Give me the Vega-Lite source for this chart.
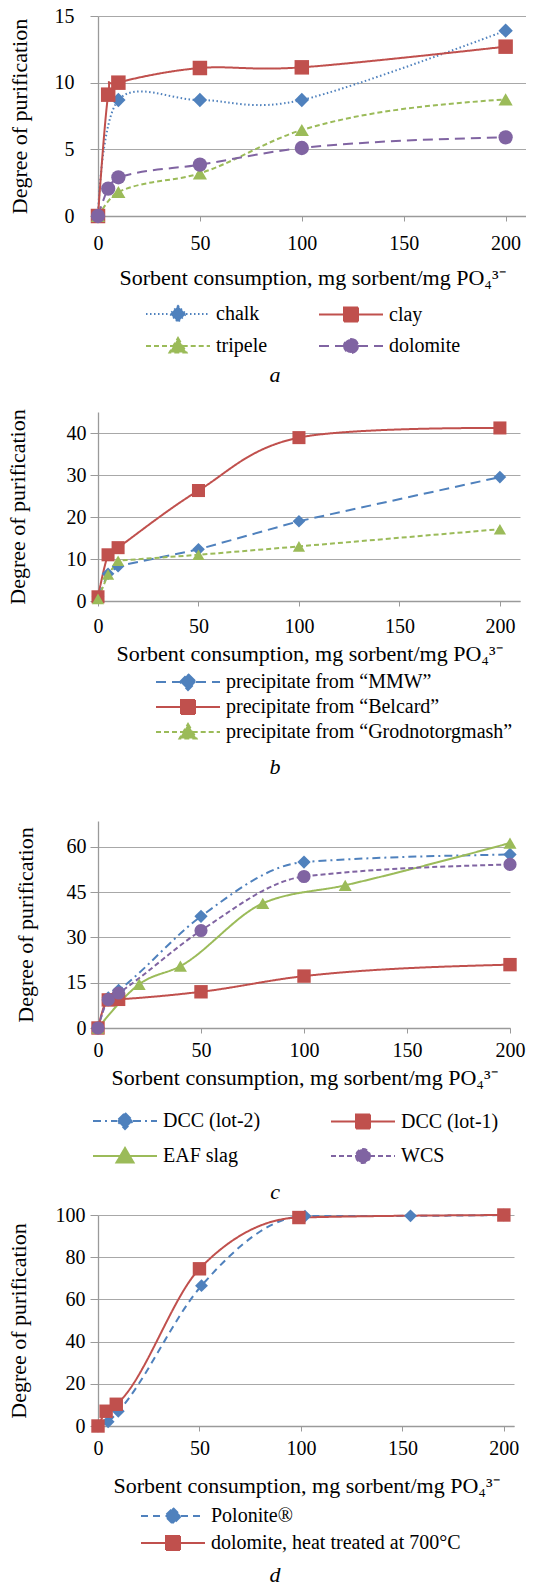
{
  "$schema": "https://vega.github.io/schema/vega-lite/v6.json",
  "padding": {"left": 6, "top": 6, "right": 0, "bottom": 0},
  "background": "white",
  "config": {
    "font": "Liberation Serif",
    "view": {"stroke": null},
    "axis": {
      "labelFont": "Liberation Serif", "titleFont": "Liberation Serif",
      "labelFontSize": 20, "titleFontSize": 22, "titleFontWeight": "normal",
      "labelColor": "#000", "titleColor": "#000",
      "domainColor": "#9a9a9a", "tickColor": "#9a9a9a", "gridColor": "#a8a8a8",
      "gridWidth": 1, "domainWidth": 1.3, "tickWidth": 1, "labelFlush": false, "labelOverlap": false
    },
    "axisX": {"grid": false, "tickSize": 5},
    "axisY": {"grid": true, "tickSize": 8},
    "title": {"font": "Liberation Serif", "fontStyle": "italic", "fontWeight": "normal", "fontSize": 22, "color": "#000", "orient": "bottom", "anchor": "middle"},
    "legend": {"labelFont": "Liberation Serif", "labelFontSize": 20, "labelColor": "#000", "padding": 0, "symbolSize": 400, "symbolOffset": 21, "labelOffset": 27, "symbolStrokeWidth": 2, "labelLimit": 400, "direction": "horizontal"}
  },
  "datasets": {
    "a": [
      {"series": "chalk", "x": 0, "y": 0}, {"series": "chalk", "x": 10, "y": 8.7}, {"series": "chalk", "x": 50, "y": 8.7}, {"series": "chalk", "x": 100, "y": 8.7}, {"series": "chalk", "x": 200, "y": 13.9},
      {"series": "clay", "x": 0, "y": 0}, {"series": "clay", "x": 5, "y": 9.1}, {"series": "clay", "x": 10, "y": 10.0}, {"series": "clay", "x": 50, "y": 11.1}, {"series": "clay", "x": 100, "y": 11.15}, {"series": "clay", "x": 200, "y": 12.7},
      {"series": "tripele", "x": 0, "y": 0}, {"series": "tripele", "x": 10, "y": 1.8}, {"series": "tripele", "x": 50, "y": 3.2}, {"series": "tripele", "x": 100, "y": 6.45}, {"series": "tripele", "x": 200, "y": 8.75},
      {"series": "dolomite", "x": 0, "y": 0}, {"series": "dolomite", "x": 5, "y": 2.05}, {"series": "dolomite", "x": 10, "y": 2.9}, {"series": "dolomite", "x": 50, "y": 3.85}, {"series": "dolomite", "x": 100, "y": 5.1}, {"series": "dolomite", "x": 200, "y": 5.9}
    ],
    "b": [
      {"series": "precipitate from “MMW”", "x": 0, "y": 1}, {"series": "precipitate from “MMW”", "x": 5, "y": 6.5}, {"series": "precipitate from “MMW”", "x": 10, "y": 8.3}, {"series": "precipitate from “MMW”", "x": 50, "y": 12.3}, {"series": "precipitate from “MMW”", "x": 100, "y": 19.0}, {"series": "precipitate from “MMW”", "x": 200, "y": 29.5},
      {"series": "precipitate from “Belcard”", "x": 0, "y": 1}, {"series": "precipitate from “Belcard”", "x": 5, "y": 11.0}, {"series": "precipitate from “Belcard”", "x": 10, "y": 12.7}, {"series": "precipitate from “Belcard”", "x": 50, "y": 26.3}, {"series": "precipitate from “Belcard”", "x": 100, "y": 38.9}, {"series": "precipitate from “Belcard”", "x": 200, "y": 41.2},
      {"series": "precipitate from “Grodnotorgmash”", "x": 0, "y": 0.5}, {"series": "precipitate from “Grodnotorgmash”", "x": 5, "y": 6.3}, {"series": "precipitate from “Grodnotorgmash”", "x": 10, "y": 9.6}, {"series": "precipitate from “Grodnotorgmash”", "x": 50, "y": 11.0}, {"series": "precipitate from “Grodnotorgmash”", "x": 100, "y": 13.0}, {"series": "precipitate from “Grodnotorgmash”", "x": 200, "y": 17.1}
    ],
    "c": [
      {"series": "DCC (lot-2)", "x": 0, "y": 0}, {"series": "DCC (lot-2)", "x": 5, "y": 10}, {"series": "DCC (lot-2)", "x": 10, "y": 12.5}, {"series": "DCC (lot-2)", "x": 50, "y": 37}, {"series": "DCC (lot-2)", "x": 100, "y": 55}, {"series": "DCC (lot-2)", "x": 200, "y": 57.5},
      {"series": "DCC (lot-1)", "x": 0, "y": 0}, {"series": "DCC (lot-1)", "x": 5, "y": 9.3}, {"series": "DCC (lot-1)", "x": 10, "y": 9.5}, {"series": "DCC (lot-1)", "x": 50, "y": 12}, {"series": "DCC (lot-1)", "x": 100, "y": 17.2}, {"series": "DCC (lot-1)", "x": 200, "y": 21},
      {"series": "EAF slag", "x": 0, "y": 0}, {"series": "EAF slag", "x": 20, "y": 14.5}, {"series": "EAF slag", "x": 40, "y": 20.5}, {"series": "EAF slag", "x": 80, "y": 41.3}, {"series": "EAF slag", "x": 120, "y": 47.3}, {"series": "EAF slag", "x": 200, "y": 61.3},
      {"series": "WCS", "x": 0, "y": 0}, {"series": "WCS", "x": 5, "y": 9.4}, {"series": "WCS", "x": 10, "y": 11.6}, {"series": "WCS", "x": 50, "y": 32.3}, {"series": "WCS", "x": 100, "y": 50.2}, {"series": "WCS", "x": 200, "y": 54.2}
    ],
    "d": [
      {"series": "Polonite®", "x": 0, "y": 0}, {"series": "Polonite®", "x": 5, "y": 2}, {"series": "Polonite®", "x": 10, "y": 7}, {"series": "Polonite®", "x": 51, "y": 66.5}, {"series": "Polonite®", "x": 102, "y": 99.5}, {"series": "Polonite®", "x": 154, "y": 99.6}, {"series": "Polonite®", "x": 200, "y": 100},
      {"series": "dolomite, heat treated at 700°C", "x": 0, "y": 0}, {"series": "dolomite, heat treated at 700°C", "x": 4, "y": 7}, {"series": "dolomite, heat treated at 700°C", "x": 9, "y": 10.3}, {"series": "dolomite, heat treated at 700°C", "x": 50, "y": 74.5}, {"series": "dolomite, heat treated at 700°C", "x": 99, "y": 98.8}, {"series": "dolomite, heat treated at 700°C", "x": 200, "y": 100}
    ]
  },
  "resolve": {"scale": {"color": "independent", "strokeDash": "independent", "shape": "independent", "size": "independent"}, "legend": {"color": "independent"}},
  "spacing": 43,
  "columns": 1,
  "align": "none",
  "concat": [
    {
      "resolve": {"scale": {"color": "independent", "strokeDash": "independent", "shape": "independent", "size": "independent"}, "legend": {"color": "independent"}},
      "spacing": 22,
      "columns": 1,
      "align": "none",
      "concat": [
        {
          "width": 428, "height": 200,
          "data": {"name": "a"},
          "title": {"text": "a", "dx": -37, "offset": 8},
          "encoding": {
            "x": {"field": "x", "type": "quantitative", "scale": {"domain": [0, 210], "nice": false}, "axis": {"title": "Sorbent consumption, mg sorbent/mg PO₄³⁻", "values": [0, 50, 100, 150, 200], "labelPadding": 12, "titlePadding": 14}},
            "y": {"field": "y", "type": "quantitative", "scale": {"domain": [0, 15], "nice": false}, "axis": {"title": "Degree of purification", "values": [0, 5, 10, 15], "labelPadding": 16, "titlePadding": 23}},
            "color": {"field": "series", "type": "nominal", "sort": null,
              "scale": {"domain": ["chalk", "clay", "tripele", "dolomite"], "range": ["#4F81BD", "#C0504D", "#9BBB59", "#8064A2"]},
              "legend": {"orient": "none", "legendX": 48, "legendY": 287, "title": null, "columns": 2, "columnPadding": 47, "rowPadding": 8,
                "encoding": {"symbols": {
                  "shape": {"value": {"expr": "datum.value==='chalk'?'M-3.2,0H-0.8M0.8,0H3.2M0,-0.8L0.8,0L0,0.8L-0.8,0Z':datum.value==='clay'?'M-3.2,0H-0.7M0.7,0H3.2M-0.7,-0.7H0.7V0.7H-0.7Z':datum.value==='tripele'?'M-3.2,0H-0.47M0.47,0H3.2M0,-0.8L0.85,0.65H-0.85Z':'M-3.2,0H-0.7M0.7,0H3.2M0.7,0A0.7,0.7,0,1,1,-0.7,0A0.7,0.7,0,1,1,0.7,0Z'"}},
                  "strokeDash": {"value": {"expr": "datum.value==='chalk'?[1.5,2.5]:datum.value==='clay'?[1,0]:datum.value==='tripele'?[5,3]:[10,6]"}},
                  "fill": {"value": {"expr": "datum.value==='chalk'?'#4F81BD':datum.value==='clay'?'#C0504D':datum.value==='tripele'?'#9BBB59':'#8064A2'"}},
                  "stroke": {"value": {"expr": "datum.value==='chalk'?'#4F81BD':datum.value==='clay'?'#C0504D':datum.value==='tripele'?'#9BBB59':'#8064A2'"}},
                  "strokeWidth": {"value": 2}, "size": {"value": 400}, "opacity": {"value": 1}, "fillOpacity": {"value": 1}
                }}}}
          },
          "layer": [
            {"transform": [{"filter": "datum.series==='chalk'||datum.series==='clay'"}],
             "mark": {"type": "line", "interpolate": "cardinal", "strokeWidth": 2},
             "encoding": {"strokeDash": {"field": "series", "type": "nominal", "legend": null, "scale": {"domain": ["dolomite", "tripele", "clay", "chalk"], "range": [[10, 6], [5, 3], [1, 0], [1.5, 2.5]]}}}},
            {"transform": [{"filter": "datum.series==='tripele'||datum.series==='dolomite'"}],
             "mark": {"type": "line", "interpolate": "monotone", "strokeWidth": 2},
             "encoding": {"strokeDash": {"field": "series", "type": "nominal", "legend": null, "scale": {"domain": ["dolomite", "tripele", "clay", "chalk"], "range": [[10, 6], [5, 3], [1, 0], [1.5, 2.5]]}}}},
            {"mark": {"type": "point", "filled": true, "opacity": 1},
             "encoding": {
               "shape": {"field": "series", "type": "nominal", "legend": null, "scale": {"domain": ["dolomite", "tripele", "clay", "chalk"], "range": ["circle", "triangle-up", "square", "diamond"]}},
               "size": {"field": "series", "type": "nominal", "legend": null, "scale": {"domain": ["tripele", "dolomite", "chalk", "clay"], "range": [200, 210, 180, 230]}}}}
          ]
        },
        {
          "width": 422, "height": 189,
          "data": {"name": "b"},
          "title": {"text": "b", "dx": -34, "offset": 14},
          "encoding": {
            "x": {"field": "x", "type": "quantitative", "scale": {"domain": [0, 210], "nice": false}, "axis": {"title": "Sorbent consumption, mg sorbent/mg PO₄³⁻", "values": [0, 50, 100, 150, 200], "labelPadding": 10, "titlePadding": 7}},
            "y": {"field": "y", "type": "quantitative", "scale": {"domain": [0, 45], "nice": false}, "axis": {"title": "Degree of purification", "values": [0, 10, 20, 30, 40], "labelPadding": 4, "titlePadding": 36.5}},
            "color": {"field": "series", "type": "nominal", "sort": null,
              "scale": {"domain": ["precipitate from “MMW”", "precipitate from “Belcard”", "precipitate from “Grodnotorgmash”"], "range": ["#4F81BD", "#C0504D", "#9BBB59"]},
              "legend": {"orient": "none", "legendX": 58, "legendY": 259, "title": null, "columns": 1, "rowPadding": 2,
                "encoding": {"symbols": {
                  "shape": {"value": {"expr": "indexof(datum.value,'MMW')>=0?'M-3.2,0H-0.8M0.8,0H3.2M0,-0.8L0.8,0L0,0.8L-0.8,0Z':indexof(datum.value,'Belcard')>=0?'M-3.2,0H-0.7M0.7,0H3.2M-0.7,-0.7H0.7V0.7H-0.7Z':'M-3.2,0H-0.47M0.47,0H3.2M0,-0.8L0.85,0.65H-0.85Z'"}},
                  "strokeDash": {"value": {"expr": "indexof(datum.value,'MMW')>=0?[10,6]:indexof(datum.value,'Belcard')>=0?[1,0]:[5,3]"}},
                  "fill": {"value": {"expr": "indexof(datum.value,'MMW')>=0?'#4F81BD':indexof(datum.value,'Belcard')>=0?'#C0504D':'#9BBB59'"}},
                  "stroke": {"value": {"expr": "indexof(datum.value,'MMW')>=0?'#4F81BD':indexof(datum.value,'Belcard')>=0?'#C0504D':'#9BBB59'"}},
                  "strokeWidth": {"value": 2}, "size": {"value": 400}, "opacity": {"value": 1}, "fillOpacity": {"value": 1}
                }}}}
          },
          "layer": [
            {"transform": [{"filter": "indexof(datum.series,'Belcard')>=0"}],
             "mark": {"type": "line", "interpolate": "cardinal", "strokeWidth": 2},
             "encoding": {"strokeDash": {"field": "series", "type": "nominal", "legend": null, "scale": {"domain": ["precipitate from “Grodnotorgmash”", "precipitate from “Belcard”", "precipitate from “MMW”"], "range": [[5, 3], [1, 0], [10, 6]]}}}},
            {"transform": [{"filter": "indexof(datum.series,'Belcard')<0"}],
             "mark": {"type": "line", "interpolate": "linear", "strokeWidth": 2},
             "encoding": {"strokeDash": {"field": "series", "type": "nominal", "legend": null, "scale": {"domain": ["precipitate from “Grodnotorgmash”", "precipitate from “Belcard”", "precipitate from “MMW”"], "range": [[5, 3], [1, 0], [10, 6]]}}}},
            {"mark": {"type": "point", "filled": true, "opacity": 1},
             "encoding": {
               "shape": {"field": "series", "type": "nominal", "legend": null, "scale": {"domain": ["precipitate from “Grodnotorgmash”", "precipitate from “Belcard”", "precipitate from “MMW”"], "range": ["triangle-up", "square", "diamond"]}},
               "size": {"field": "series", "type": "nominal", "legend": null, "scale": {"domain": ["precipitate from “Belcard”", "precipitate from “MMW”", "precipitate from “Grodnotorgmash”"], "range": [170, 150, 170]}}}}
          ]
        }
      ]
    },
    {
      "resolve": {"scale": {"color": "independent", "strokeDash": "independent", "shape": "independent", "size": "independent"}, "legend": {"color": "independent"}},
      "spacing": 2,
      "columns": 1,
      "align": "none",
      "concat": [
        {
          "width": 412, "height": 207,
          "data": {"name": "c"},
          "title": {"text": "c", "dx": -29, "offset": 15},
          "encoding": {
            "x": {"field": "x", "type": "quantitative", "scale": {"domain": [0, 200], "nice": false}, "axis": {"title": "Sorbent consumption, mg sorbent/mg PO₄³⁻", "values": [0, 50, 100, 150, 200], "labelPadding": 7, "titlePadding": 7}},
            "y": {"field": "y", "type": "quantitative", "scale": {"domain": [0, 68.6], "nice": false}, "axis": {"title": "Degree of purification", "values": [0, 15, 30, 45, 60], "labelPadding": 4, "titlePadding": 29}},
            "color": {"field": "series", "type": "nominal", "sort": null,
              "scale": {"domain": ["DCC (lot-2)", "DCC (lot-1)", "EAF slag", "WCS"], "range": ["#4F81BD", "#C0504D", "#9BBB59", "#8064A2"]},
              "legend": {"orient": "none", "legendX": -5, "legendY": 289, "title": null, "columns": 2, "columnPadding": 66, "rowPadding": 11,
                "encoding": {"symbols": {
                  "shape": {"value": {"expr": "datum.value==='DCC (lot-2)'?'M-3.2,0H-0.8M0.8,0H3.2M0,-0.8L0.8,0L0,0.8L-0.8,0Z':datum.value==='DCC (lot-1)'?'M-3.2,0H-0.7M0.7,0H3.2M-0.7,-0.7H0.7V0.7H-0.7Z':datum.value==='EAF slag'?'M-3.2,0H-0.47M0.47,0H3.2M0,-0.8L0.85,0.65H-0.85Z':'M-3.2,0H-0.7M0.7,0H3.2M0.7,0A0.7,0.7,0,1,1,-0.7,0A0.7,0.7,0,1,1,0.7,0Z'"}},
                  "strokeDash": {"value": {"expr": "datum.value==='DCC (lot-2)'?[8,4,2,4]:datum.value==='WCS'?[5,3]:[1,0]"}},
                  "fill": {"value": {"expr": "datum.value==='DCC (lot-2)'?'#4F81BD':datum.value==='DCC (lot-1)'?'#C0504D':datum.value==='EAF slag'?'#9BBB59':'#8064A2'"}},
                  "stroke": {"value": {"expr": "datum.value==='DCC (lot-2)'?'#4F81BD':datum.value==='DCC (lot-1)'?'#C0504D':datum.value==='EAF slag'?'#9BBB59':'#8064A2'"}},
                  "strokeWidth": {"value": 2}, "size": {"value": 400}, "opacity": {"value": 1}, "fillOpacity": {"value": 1}
                }}}}
          },
          "layer": [
            {"mark": {"type": "line", "interpolate": "monotone", "strokeWidth": 2},
             "encoding": {"strokeDash": {"field": "series", "type": "nominal", "legend": null, "scale": {"domain": ["WCS", "EAF slag", "DCC (lot-1)", "DCC (lot-2)"], "range": [[5, 3], [1, 0], [1, 0], [8, 4, 2, 4]]}}}},
            {"mark": {"type": "point", "filled": true, "opacity": 1},
             "encoding": {
               "shape": {"field": "series", "type": "nominal", "legend": null, "scale": {"domain": ["WCS", "EAF slag", "DCC (lot-1)", "DCC (lot-2)"], "range": ["circle", "triangle-up", "square", "diamond"]}},
               "size": {"field": "series", "type": "nominal", "legend": null, "scale": {"domain": ["EAF slag", "WCS", "DCC (lot-2)", "DCC (lot-1)"], "range": [170, 180, 130, 180]}}}}
          ]
        },
        {
          "width": 416, "height": 211,
          "data": {"name": "d"},
          "title": {"text": "d", "dx": -31, "offset": 11},
          "encoding": {
            "x": {"field": "x", "type": "quantitative", "scale": {"domain": [0, 205], "nice": false}, "axis": {"title": "Sorbent consumption, mg sorbent/mg PO₄³⁻", "values": [0, 50, 100, 150, 200], "labelPadding": 7, "titlePadding": 17}},
            "y": {"field": "y", "type": "quantitative", "scale": {"domain": [0, 100], "nice": false}, "axis": {"title": "Degree of purification", "values": [0, 20, 40, 60, 80, 100], "labelPadding": 5, "titlePadding": 25}},
            "color": {"field": "series", "type": "nominal", "sort": null,
              "scale": {"domain": ["Polonite®", "dolomite, heat treated at 700°C"], "range": ["#4F81BD", "#C0504D"]},
              "legend": {"orient": "none", "legendX": 43, "legendY": 290, "title": null, "columns": 1, "rowPadding": 4,
                "encoding": {"symbols": {
                  "shape": {"value": {"expr": "indexof(datum.value,'Polonite')>=0?'M-3.2,0H-0.8M0.8,0H3.2M0,-0.8L0.8,0L0,0.8L-0.8,0Z':'M-3.2,0H-0.7M0.7,0H3.2M-0.7,-0.7H0.7V0.7H-0.7Z'"}},
                  "strokeDash": {"value": {"expr": "indexof(datum.value,'Polonite')>=0?[7,5]:[1,0]"}},
                  "fill": {"value": {"expr": "indexof(datum.value,'Polonite')>=0?'#4F81BD':'#C0504D'"}},
                  "stroke": {"value": {"expr": "indexof(datum.value,'Polonite')>=0?'#4F81BD':'#C0504D'"}},
                  "strokeWidth": {"value": 2}, "size": {"value": 400}, "opacity": {"value": 1}, "fillOpacity": {"value": 1}
                }}}}
          },
          "layer": [
            {"mark": {"type": "line", "interpolate": "monotone", "strokeWidth": 2},
             "encoding": {"strokeDash": {"field": "series", "type": "nominal", "legend": null, "scale": {"domain": ["dolomite, heat treated at 700°C", "Polonite®"], "range": [[1, 0], [7, 5]]}}}},
            {"mark": {"type": "point", "filled": true, "opacity": 1},
             "encoding": {
               "shape": {"field": "series", "type": "nominal", "legend": null, "scale": {"domain": ["dolomite, heat treated at 700°C", "Polonite®"], "range": ["square", "diamond"]}},
               "size": {"field": "series", "type": "nominal", "legend": null, "scale": {"domain": ["dolomite, heat treated at 700°C", "Polonite®", "x"], "range": [180, 150, 150]}}}}
          ]
        }
      ]
    }
  ]
}
